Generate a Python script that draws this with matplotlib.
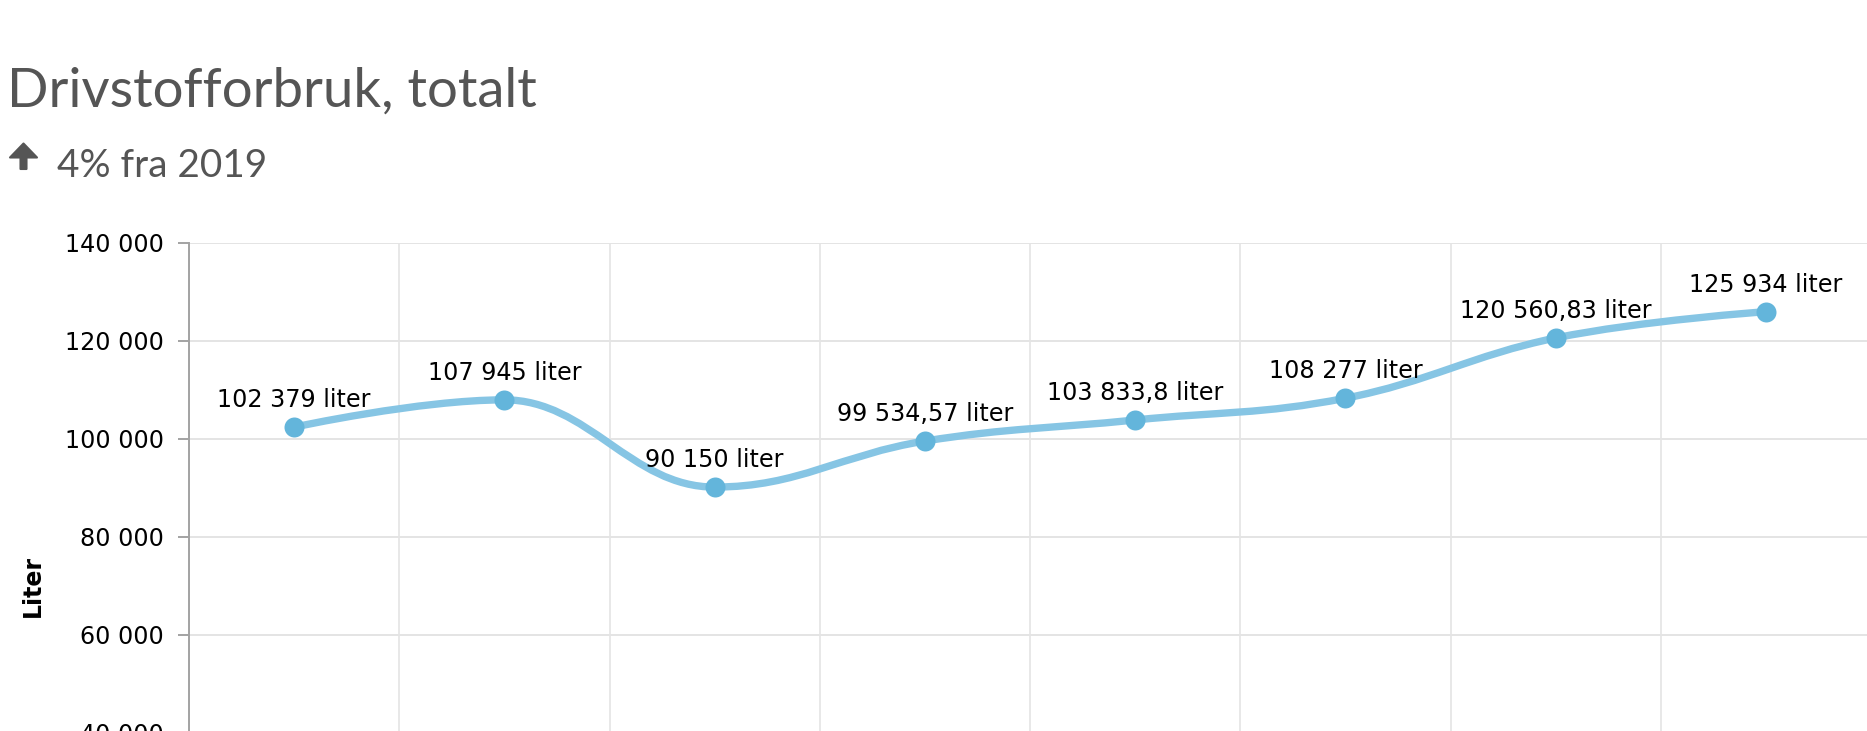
import numpy as np
import matplotlib
matplotlib.use("Agg")
import matplotlib.pyplot as plt
from matplotlib.path import Path
from matplotlib.patches import PathPatch, Polygon

# ---- data ----
categories = ["2013", "2014", "2015", "2016", "2017", "2018", "2019", "2020"]
values = [102379, 107945, 90150, 99534.57, 103833.8, 108277, 120560.83, 125934]
y_ticks = [0, 20000, 40000, 60000, 80000, 100000, 120000, 140000]
title = "Drivstofforbruk, totalt"
subtitle = "4% fra 2019"
y_label = "Liter"
unit = "liter"

W, H = 1867, 731
DPI = 100
fig = plt.figure(figsize=(W / DPI, H / DPI), dpi=DPI, facecolor="white")

TEXT_COL = "#555555"
LINE_COL = "#86c5e4"
MARK_COL = "#63b5db"
GRID_COL = "#e4e4e4"
AXIS_COL = "#a3a3a3"

def px2fig(x, y):
    return x / W, 1 - y / H

# ---- axes (plot area extends past the bottom of the picture) ----
left_px, top_px, right_px, bottom_px = 189, 242.7, 1871, 929
l, t = px2fig(left_px, top_px)
_, b = px2fig(right_px, bottom_px)
ax = fig.add_axes([l, b, (right_px - left_px) / W, t - b])
ax.set_facecolor("white")

n = len(values)
xs = np.arange(n)
ax.set_xlim(-0.5, n - 0.5)
ax.set_ylim(y_ticks[0], y_ticks[-1])
ax.set_yticks(y_ticks)
ax.set_yticklabels([f"{v:,}".replace(",", " ") for v in y_ticks])
ax.set_xticks(xs)
ax.set_xticklabels(categories)
ax.set_xticks(np.arange(-0.5, n, 1), minor=True)

for s in ["top", "right", "bottom"]:
    ax.spines[s].set_visible(False)
ax.spines["left"].set_color(AXIS_COL)
ax.spines["left"].set_linewidth(1.4)

ax.tick_params(axis="y", length=8, width=1.4, color=AXIS_COL, labelsize=17.2,
               labelcolor="black", pad=10)
ax.tick_params(axis="x", which="both", length=0, labelsize=17)
ax.grid(axis="y", which="major", color=GRID_COL, linewidth=1.4, zorder=0)
ax.grid(axis="x", which="minor", color=GRID_COL, linewidth=1.2, zorder=0)
ax.set_axisbelow(True)

# ---- spline (bezier through the points) ----
smoothing = 1.5
denom = smoothing + 1
pts = list(zip(xs.astype(float), [float(v) for v in values]))
ctrl = []
for i, (px_, py_) in enumerate(pts):
    if 0 < i < n - 1:
        lx, ly = pts[i - 1]
        nx, ny = pts[i + 1]
        lcx = (smoothing * px_ + lx) / denom
        lcy = (smoothing * py_ + ly) / denom
        rcx = (smoothing * px_ + nx) / denom
        rcy = (smoothing * py_ + ny) / denom
        if rcx != lcx:
            corr = ((rcy - lcy) * (rcx - px_)) / (rcx - lcx) + py_ - rcy
            lcy += corr
            rcy += corr
        if lcy > ly and lcy > py_:
            lcy = max(ly, py_); rcy = 2 * py_ - lcy
        elif lcy < ly and lcy < py_:
            lcy = min(ly, py_); rcy = 2 * py_ - lcy
        if rcy > ny and rcy > py_:
            rcy = max(ny, py_); lcy = 2 * py_ - rcy
        elif rcy < ny and rcy < py_:
            rcy = min(ny, py_); lcy = 2 * py_ - rcy
        ctrl.append(((lcx, lcy), (rcx, rcy)))
    else:
        ctrl.append(((px_, py_), (px_, py_)))

verts = [pts[0]]
codes = [Path.MOVETO]
for i in range(1, n):
    verts += [ctrl[i - 1][1], ctrl[i][0], pts[i]]
    codes += [Path.CURVE4] * 3
ax.add_patch(PathPatch(Path(verts, codes), facecolor="none", edgecolor=LINE_COL,
                       linewidth=5.3, capstyle="round", joinstyle="round",
                       transform=ax.transData, zorder=3))
ax.plot(xs, values, linestyle="none", marker="o", markersize=14.4,
        markerfacecolor=MARK_COL, markeredgewidth=0, zorder=4)

def fmt(v):
    return f"{v:,}".replace(",", " ").replace(".", ",") + " " + unit

for x, v in zip(xs, values):
    ax.annotate(fmt(v), (x, v), xytext=(0, 14.5), textcoords="offset points",
                ha="center", va="baseline", fontsize=17.2, color="black", zorder=5)

# ---- titles ----
def fit_text(xpx, ypx, s, target_w, **kw):
    fx, fy = px2fig(xpx, ypx)
    txt = fig.text(fx, fy, s, fontsize=40, **kw)
    fig.canvas.draw()
    w = txt.get_window_extent().width
    txt.set_fontsize(40 * target_w / w)
    return txt

fit_text(7, 107, title, 530, family="Lato", color=TEXT_COL,
         ha="left", va="baseline")
fit_text(57, 177, subtitle, 210, family="Lato", color=TEXT_COL,
         ha="left", va="baseline")

# arrow icon
arrow_px = [(23.5, 143.5), (37, 157.5), (26.5, 157.5), (26.5, 169), (20.5, 169),
            (20.5, 157.5), (10, 157.5)]
fig.patches.append(Polygon([px2fig(x, y) for x, y in arrow_px], closed=True,
                           transform=fig.transFigure, facecolor=TEXT_COL,
                           edgecolor=TEXT_COL, linewidth=1.5, joinstyle="round"))

lx, ly = px2fig(33, 586)
fig.text(lx, ly, y_label, rotation=90, ha="center", va="center",
         fontsize=17, fontweight="bold", color="black")

fig.savefig("out.png", dpi=DPI, facecolor="white")
